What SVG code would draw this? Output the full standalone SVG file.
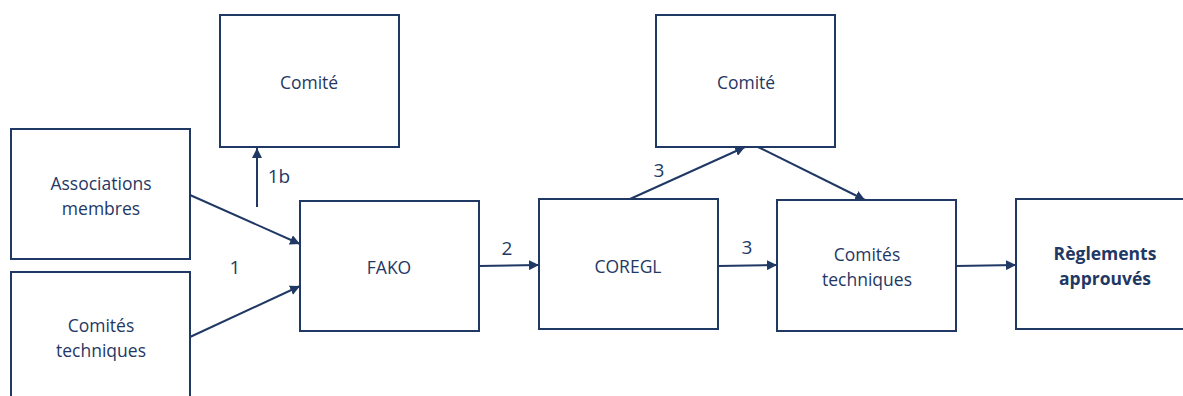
<svg xmlns="http://www.w3.org/2000/svg" width="1183" height="396" viewBox="0 0 1183 396">
<style>
.box{fill:#fff;stroke:#203864;stroke-width:2}
.t{font-family:"Open Sans","Liberation Sans",sans-serif;font-size:17.5px;fill:#1f3864;text-anchor:middle;dominant-baseline:central}
.b{font-weight:bold}
.c{stroke:#203864;stroke-width:2;fill:none;marker-end:url(#ah)}
.l{font-family:"Open Sans","Liberation Sans",sans-serif;font-size:19px;fill:#1f3864;text-anchor:middle;dominant-baseline:central}
</style>
<defs>
<marker id="ah" viewBox="0 0 10 10" refX="10" refY="5" markerWidth="5" markerHeight="5" orient="auto" markerUnits="strokeWidth">
<path d="M0,0 L10,5 L0,10 z" fill="#203864"/>
</marker>
</defs>
<rect width="1183" height="396" fill="#fff"/>
<g id="n-assoc"><rect class="box" x="11" y="129" width="179" height="130"/><text class="t" x="101" y="183">Associations</text><text class="t" x="101" y="208">membres</text></g>
<g id="n-ct1"><rect class="box" x="11" y="272" width="179" height="140"/><text class="t" x="101" y="325">Comités</text><text class="t" x="101" y="350">techniques</text></g>
<g id="n-comite1"><rect class="box" x="220" y="15" width="179" height="132"/><text class="t" x="309" y="82">Comité</text></g>
<g id="n-fako"><rect class="box" x="300" y="201" width="179" height="130"/><text class="t" x="389" y="267">FAKO</text></g>
<g id="n-coregl"><rect class="box" x="539" y="199" width="179" height="130"/><text class="t" x="628" y="266">COREGL</text></g>
<g id="n-comite2"><rect class="box" x="656" y="15" width="179" height="132"/><text class="t" x="746" y="82">Comité</text></g>
<g id="n-ct2"><rect class="box" x="777" y="200" width="179" height="131"/><text class="t" x="867" y="254">Comités</text><text class="t" x="867" y="279">techniques</text></g>
<g id="n-regl"><rect class="box" x="1016" y="199" width="180" height="130"/><text class="t b" x="1105" y="253">Règlements</text><text class="t b" x="1105" y="278">approuvés</text></g>
<g id="connectors">
<line class="c" x1="190" y1="195" x2="300" y2="244"/>
<line class="c" x1="190" y1="337" x2="300" y2="286"/>
<line class="c" x1="257" y1="207" x2="257" y2="148"/>
<line class="c" x1="479" y1="266" x2="539" y2="265"/>
<line class="c" x1="630" y1="199" x2="745" y2="147"/>
<line class="c" x1="758" y1="147" x2="865" y2="200"/>
<line class="c" x1="718" y1="266" x2="777" y2="265"/>
<line class="c" x1="956" y1="266" x2="1016" y2="265"/>
<text class="l" x="279" y="176">1b</text>
<text class="l" x="235" y="267">1</text>
<text class="l" x="507" y="248">2</text>
<text class="l" x="659" y="170">3</text>
<text class="l" x="747" y="247">3</text>
</g>
</svg>
